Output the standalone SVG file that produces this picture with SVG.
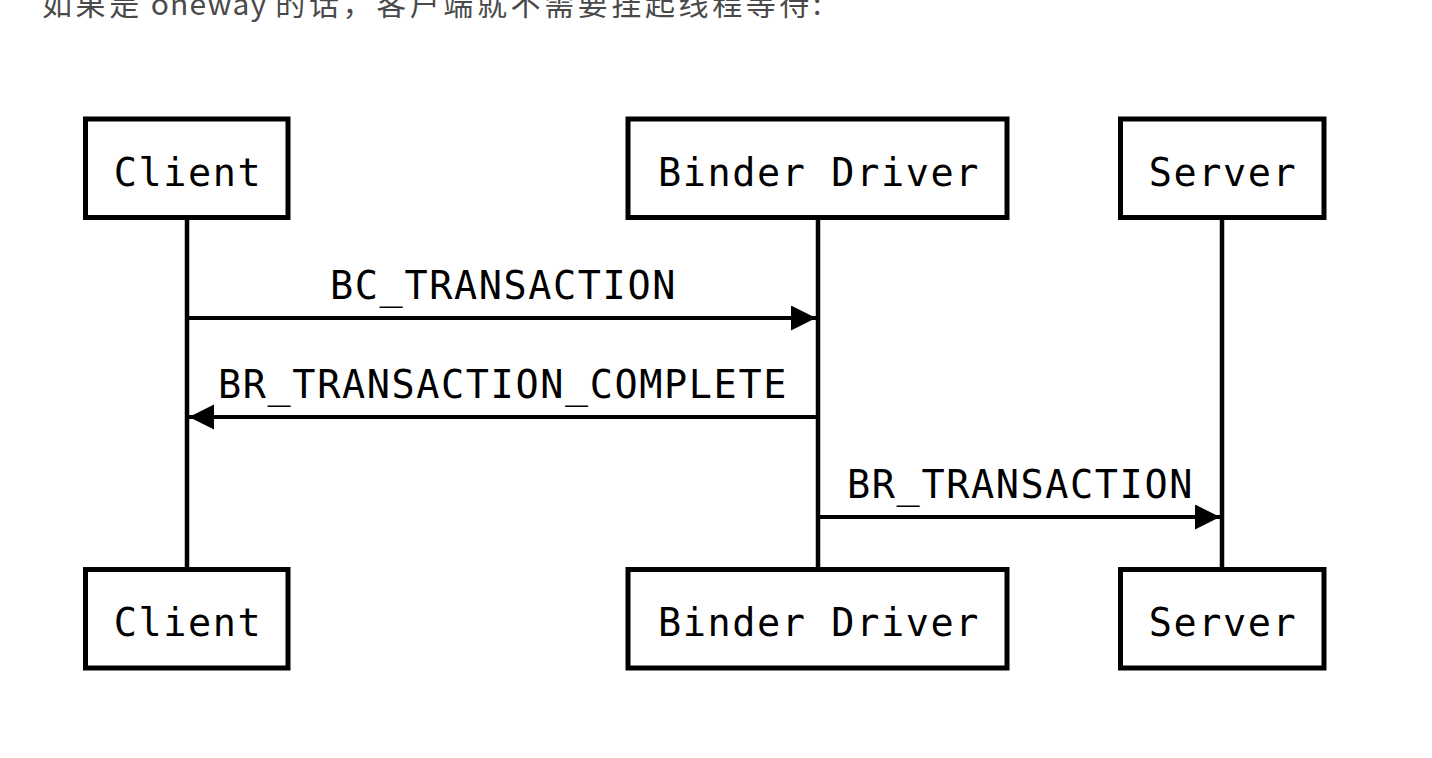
<svg xmlns="http://www.w3.org/2000/svg" width="1432" height="758" viewBox="0 0 1432 758">
<style>
.box{fill:#fff;stroke:#000;stroke-width:5}
.life{stroke:#000;stroke-width:4.5}
.msg{stroke:#000;stroke-width:4;fill:none}
.t{font-family:"DejaVu Sans Mono","Liberation Mono",monospace;font-size:38.5px;letter-spacing:1.6px;fill:#000;text-anchor:middle}
.cap{font-family:"Noto Sans CJK SC","Noto Sans",sans-serif;font-size:30px;letter-spacing:3.6px;fill:#4a4a4a}
.lat{letter-spacing:1.2px}
</style>
<defs>
<marker id="ah" markerUnits="userSpaceOnUse" markerWidth="26" markerHeight="26" refX="25" refY="12.5" orient="auto">
<polygon points="0,0 25,12.5 0,25" fill="#000"/>
</marker>
</defs>
<rect width="1432" height="758" fill="#fff"/>
<text class="cap" x="42" y="15">如果是<tspan class="lat"> oneway </tspan>的话，客户端就不需要挂起线程等待:</text>
<g id="lifelines">
<line class="life" x1="187" y1="218" x2="187" y2="570"/>
<line class="life" x1="818" y1="218" x2="818" y2="570"/>
<line class="life" x1="1222" y1="218" x2="1222" y2="570"/>
</g>
<g id="client-top"><rect class="box" x="85.5" y="119" width="202.5" height="98.5"/><text class="t" x="188" y="186">Client</text></g>
<g id="binder-top"><rect class="box" x="628" y="119" width="379" height="98.5"/><text class="t" x="819" y="186">Binder Driver</text></g>
<g id="server-top"><rect class="box" x="1120.5" y="119" width="203.5" height="98.5"/><text class="t" x="1223" y="186">Server</text></g>
<g id="client-bottom"><rect class="box" x="85.5" y="569.5" width="202.5" height="98.5"/><text class="t" x="188" y="636">Client</text></g>
<g id="binder-bottom"><rect class="box" x="628" y="569.5" width="379" height="98.5"/><text class="t" x="819" y="636">Binder Driver</text></g>
<g id="server-bottom"><rect class="box" x="1120.5" y="569.5" width="203.5" height="98.5"/><text class="t" x="1223" y="636">Server</text></g>
<g id="connectors">
<line class="msg" x1="189" y1="318" x2="816" y2="318" marker-end="url(#ah)"/>
<text class="t" x="503.5" y="299">BC_TRANSACTION</text>
<line class="msg" x1="816" y1="417" x2="189" y2="417" marker-end="url(#ah)"/>
<text class="t" x="503" y="398">BR_TRANSACTION_COMPLETE</text>
<line class="msg" x1="820" y1="517" x2="1220" y2="517" marker-end="url(#ah)"/>
<text class="t" x="1020.5" y="498">BR_TRANSACTION</text>
</g>
</svg>
